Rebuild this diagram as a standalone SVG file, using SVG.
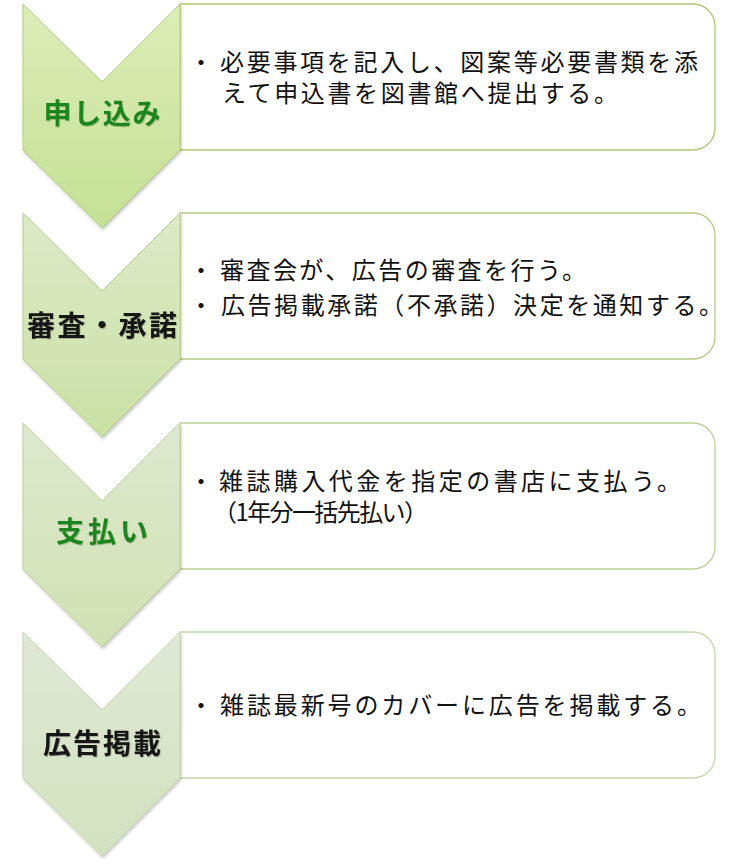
<svg xmlns="http://www.w3.org/2000/svg" width="744" height="865" viewBox="0 0 744 865">
<style>
.box{fill:#ffffff;stroke-width:1.3}
.chev{stroke-width:1}
.body{font-family:"Noto Sans CJK JP","Noto Sans",sans-serif;font-size:24px;fill:#111111}
.bul{font-family:"Noto Sans CJK JP","Noto Sans",sans-serif;font-size:24px;fill:#111111;text-anchor:middle}
.lab{font-family:"Noto Sans CJK JP","Noto Sans",sans-serif;font-size:28px;font-weight:bold;text-anchor:middle}
.g{fill:#1f861f}
.k{fill:#141414}
</style>
<defs>
<linearGradient id="g1" x1="0" y1="0" x2="0" y2="1"><stop offset="0" stop-color="#dcedb8"/><stop offset="1" stop-color="#c5e095"/></linearGradient>
<linearGradient id="g2" x1="0" y1="0" x2="0" y2="1"><stop offset="0" stop-color="#dde9c8"/><stop offset="1" stop-color="#cae1a5"/></linearGradient>
<linearGradient id="g3" x1="0" y1="0" x2="0" y2="1"><stop offset="0" stop-color="#dee8cf"/><stop offset="1" stop-color="#cfe2b2"/></linearGradient>
<linearGradient id="g4" x1="0" y1="0" x2="0" y2="1"><stop offset="0" stop-color="#e0e8d6"/><stop offset="1" stop-color="#d2e2bf"/></linearGradient>
<filter id="sh" x="-10%" y="-10%" width="130%" height="130%"><feDropShadow dx="1" dy="2" stdDeviation="1.5" flood-color="#000" flood-opacity="0.22"/></filter>
<filter id="ts" x="-10%" y="-20%" width="120%" height="150%"><feDropShadow dx="0.8" dy="0.8" stdDeviation="0.7" flood-color="#000" flood-opacity="0.25"/></filter>
</defs>

<g id="step1">
<path class="box" stroke="#adc873" d="M180,4 H693 A22,22 0 0 1 715,26 V128 A22,22 0 0 1 693,150 H180 Z"/>
<path class="chev" filter="url(#sh)" fill="url(#g1)" stroke="#b3cf80" d="M23,4 L102,82 L180,4 L180,150 L102,228 L23,150 Z"/>
<text class="lab g" x="102" y="124" filter="url(#ts)" textLength="117" lengthAdjust="spacing">申し込み</text>
<text class="bul" x="201" y="71">・</text>
<text class="body"><tspan x="220" y="71" textLength="478" lengthAdjust="spacing">必要事項を記入し、図案等必要書類を添</tspan><tspan x="222" y="102" textLength="396" lengthAdjust="spacing">えて申込書を図書館へ提出する。</tspan></text>
</g>

<g id="step2">
<path class="box" stroke="#b2cb84" d="M180,213 H693 A22,22 0 0 1 715,235 V337 A22,22 0 0 1 693,359 H180 Z"/>
<path class="chev" filter="url(#sh)" fill="url(#g2)" stroke="#b8d08e" d="M23,213 L102,291 L180,213 L180,359 L102,437 L23,359 Z"/>
<text class="lab k" x="102" y="336" filter="url(#ts)" textLength="150" lengthAdjust="spacing">審査・承諾</text>
<text class="bul" x="201" y="279">・</text>
<text class="body" x="220" y="279" textLength="366" lengthAdjust="spacing">審査会が、広告の審査を行う。</text>
<text class="bul" x="201" y="314">・</text>
<text class="body" x="221" y="314" textLength="502" lengthAdjust="spacing">広告掲載承諾（不承諾）決定を通知する。</text>
</g>

<g id="step3">
<path class="box" stroke="#bad195" d="M180,423 H693 A22,22 0 0 1 715,445 V547 A22,22 0 0 1 693,569 H180 Z"/>
<path class="chev" filter="url(#sh)" fill="url(#g3)" stroke="#bed39b" d="M23,423 L102,501 L180,423 L180,569 L102,647 L23,569 Z"/>
<text class="lab g" x="102" y="542" filter="url(#ts)" textLength="92" lengthAdjust="spacing">支払い</text>
<text class="bul" x="201" y="490">・</text>
<text class="body"><tspan x="219" y="490" textLength="462" lengthAdjust="spacing">雑誌購入代金を指定の書店に支払う。</tspan><tspan x="213" y="521" textLength="215" lengthAdjust="spacing">（1年分一括先払い）</tspan></text>
</g>

<g id="step4">
<path class="box" stroke="#c3d6aa" d="M180,632 H693 A22,22 0 0 1 715,654 V756 A22,22 0 0 1 693,778 H180 Z"/>
<path class="chev" filter="url(#sh)" fill="url(#g4)" stroke="#c5d8ae" d="M23,632 L102,710 L180,632 L180,778 L102,856 L23,778 Z"/>
<text class="lab k" x="102" y="754" filter="url(#ts)" textLength="118" lengthAdjust="spacing">広告掲載</text>
<text class="bul" x="201" y="714">・</text>
<text class="body" x="220" y="714" textLength="481" lengthAdjust="spacing">雑誌最新号のカバーに広告を掲載する。</text>
</g>

<g id="connectors"></g>
</svg>
